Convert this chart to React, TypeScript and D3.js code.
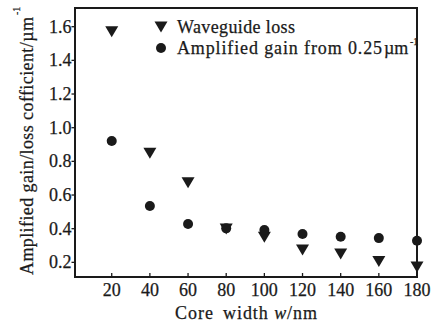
import React from "react";
import * as d3 from "d3";

const coreWidths = [20, 40, 60, 80, 100, 120, 140, 160, 180];
const waveguideLoss = [1.57, 0.848, 0.673, 0.398, 0.349, 0.273, 0.25, 0.205, 0.172];
const amplifiedGain = [0.921, 0.535, 0.428, 0.402, 0.392, 0.368, 0.352, 0.344, 0.328];
const xTicks = [20, 40, 60, 80, 100, 120, 140, 160, 180];
const yTicks = [0.2, 0.4, 0.6, 0.8, 1.0, 1.2, 1.4, 1.6];

const W = 433, H = 325;
const left = 75, right = 417, top = 8, bottom = 277;
const FONT = "'Liberation Serif', 'Times New Roman', serif";
const INK = "#1a1a1a";

export default function App() {
  const x = d3.scaleLinear().domain([0.75, 180]).range([left, right]);
  const y = d3.scaleLinear().domain([0.113, 1.711]).range([bottom, top]);
  const tri = (cx: number, cy: number) =>
    `M${cx - 6.5},${cy - 5.5}L${cx + 6.5},${cy - 5.5}L${cx},${cy + 5.5}Z`;
  const txt = { fill: INK, stroke: INK, strokeWidth: 0.25 };
  return (
    <svg width={W} height={H} style={{ position: "absolute", left: 0, top: 0, background: "#fff" }} fontFamily={FONT}>
      <rect x={0} y={0} width={W} height={H} fill="#fff" />
      {xTicks.map((t) => (
        <g key={"x" + t}>
          <line x1={x(t)} x2={x(t)} y1={bottom} y2={bottom - 4} stroke={INK} strokeWidth={1.3} />
          <text x={x(t)} y={296} textAnchor="middle" fontSize={18} {...txt}>{t}</text>
        </g>
      ))}
      {yTicks.map((t) => (
        <g key={"y" + t}>
          <line x1={left} x2={left - 3.5} y1={y(t)} y2={y(t)} stroke={INK} strokeWidth={1.3} />
          <text x={71.5} y={y(t) + 6} textAnchor="end" fontSize={18} {...txt}>{t.toFixed(1)}</text>
        </g>
      ))}
      <rect x={left} y={top} width={right - left} height={bottom - top} fill="none" stroke={INK} strokeWidth={2} />
      {coreWidths.map((c, i) => (
        <path key={"t" + c} d={tri(x(c), y(waveguideLoss[i]))} fill={INK} />
      ))}
      {coreWidths.map((c, i) => (
        <circle key={"c" + c} cx={x(c)} cy={y(amplifiedGain[i])} r={5} fill={INK} />
      ))}
      {/* legend */}
      <path d={tri(161, 27)} fill={INK} />
      <circle cx={161} cy={48} r={5} fill={INK} />
      <text x={177} y={33} fontSize={18} textLength={118} lengthAdjust="spacing" {...txt}>Waveguide loss</text>
      <text x={177} y={54} fontSize={18} textLength={205} lengthAdjust="spacing" {...txt}>Amplified gain from 0.25</text>
      <text x={384} y={54} fontSize={18} {...txt}>µm</text>
      <text x={410} y={45} fontSize={10} {...txt}>-1</text>
      {/* axis titles */}
      <text x={175} y={319} fontSize={18} textLength={38} lengthAdjust="spacing" {...txt}>Core</text>
      <text x={223} y={319} fontSize={18} textLength={94} lengthAdjust="spacing" {...txt}>
        width <tspan fontStyle="italic">w</tspan>/nm
      </text>
      <g transform={`translate(33,275) rotate(-90)`}>
        <text x={0} y={0} fontSize={18} textLength={258} lengthAdjust="spacing" {...txt}>
          Amplified gain/loss cofficient/µm
        </text>
        <text x={260} y={-13} fontSize={10} {...txt}>-1</text>
      </g>
    </svg>
  );
}
